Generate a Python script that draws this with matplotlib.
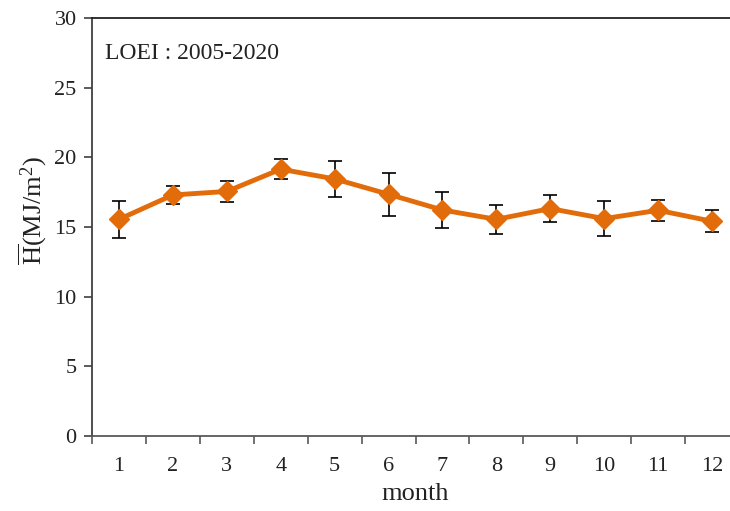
import numpy as np
import matplotlib.pyplot as plt
from matplotlib.ticker import FixedLocator, NullFormatter

plt.rcParams["font.family"] = ["Liberation Serif", "DejaVu Serif"]
plt.rcParams["mathtext.fontset"] = "custom"
plt.rcParams["mathtext.rm"] = "Liberation Serif"
plt.rcParams["mathtext.it"] = "Liberation Serif:italic"

# monthly mean daily irradiation and its standard deviation
months = [1, 2, 3, 4, 5, 6, 7, 8, 9, 10, 11, 12]
h_mean = [15.55, 17.30, 17.55, 19.15, 18.45, 17.35, 16.22, 15.55, 16.32, 15.60, 16.20, 15.41]
h_std = [1.34, 0.63, 0.73, 0.73, 1.28, 1.55, 1.26, 1.02, 0.99, 1.28, 0.74, 0.80]
month_labels = [str(m) for m in months]
station = "LOEI : 2005-2020"

ORANGE = "#E36C0A"
TXT = "#222222"

fig = plt.figure(figsize=(7.3, 5.11), dpi=100)
ax = fig.add_axes([92 / 730, 1 - 436 / 511, 647 / 730, 418 / 511])

ax.errorbar(months, h_mean, yerr=h_std, fmt="none", ecolor="black",
            elinewidth=1.2, capsize=5, capthick=1.2, zorder=2)
ax.plot(months, h_mean, color=ORANGE, lw=3.5, marker="D", ms=10,
        mec=ORANGE, mfc=ORANGE, zorder=3)

ax.set_xlim(0.5, 12.5)
ax.set_ylim(0, 30)
ax.set_yticks(range(0, 31, 5))

# category axis: ticks sit between months, labels at the centres
ax.xaxis.set_major_locator(FixedLocator(np.arange(0.5, 12.6, 1)))
ax.xaxis.set_major_formatter(NullFormatter())
ax.xaxis.set_minor_locator(FixedLocator(months))
ax.set_xticklabels(month_labels, minor=True)
ax.tick_params(axis="x", which="major", direction="out", length=6,
               width=1.2, color="#595959")
ax.tick_params(axis="x", which="minor", length=0, pad=15,
               labelsize=16, labelcolor=TXT)
ax.tick_params(axis="y", direction="out", length=6, width=1.2,
               color="#404040", labelsize=16, labelcolor=TXT, pad=5)

ax.spines["left"].set_color("#404040")
ax.spines["bottom"].set_color("#595959")
ax.spines["top"].set_color("#222222")
for side in ["left", "bottom", "top"]:
    ax.spines[side].set_linewidth(1.3)
ax.spines["right"].set_visible(False)

ax.set_xlabel("month", fontsize=19, color=TXT, labelpad=5)
ax.set_ylabel(r"$\overline{\mathrm{H}}$(MJ/m$^2$)", fontsize=19, color=TXT)
ax.yaxis.set_label_coords(-0.066, 0.54)

ax.text(0.02, 0.94, station, transform=ax.transAxes, fontsize=17,
        color=TXT, va="top", ha="left")

fig.savefig("out.png", dpi=100)
